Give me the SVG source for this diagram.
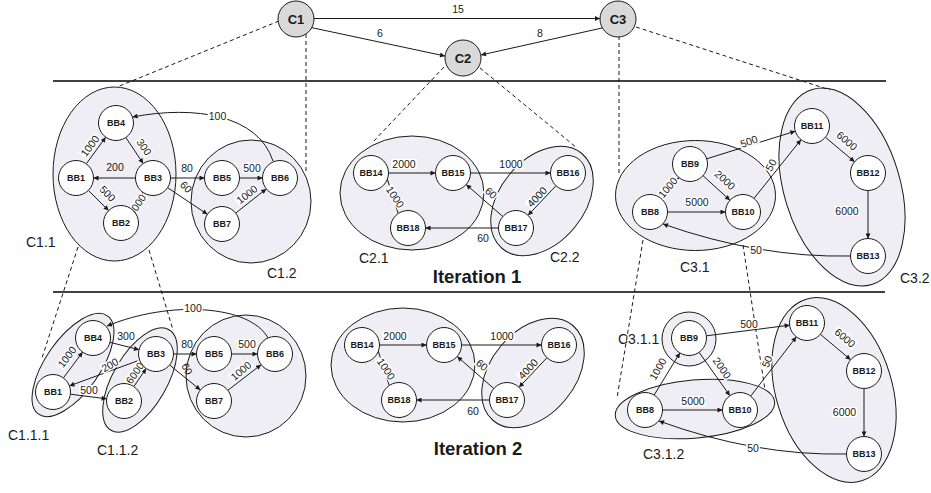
<svg xmlns="http://www.w3.org/2000/svg" width="931" height="493" viewBox="0 0 931 493">
<style>
  text { font-family: "Liberation Sans", Arial, sans-serif; }
  .ln { stroke: #1a1a1a; stroke-width: 1; fill: none; marker-end: url(#ah); }
  .dash { stroke: #1a1a1a; stroke-width: 1; stroke-dasharray: 4 3; fill: none; }
  .sep { stroke: #000; stroke-width: 1.5; }
  .bb circle { fill: #fff; stroke: #1a1a1a; stroke-width: 1; }
  .bb text { font-size: 9px; font-weight: bold; text-anchor: middle; fill: #1a1a1a; }
  .cn circle { fill: #d9d9d9; stroke: #1a1a1a; stroke-width: 1; }
  .cn text { font-size: 13px; font-weight: bold; text-anchor: middle; fill: #1a1a1a; }
  .el { font-size: 10.5px; text-anchor: middle; fill: #1a1a1a; }
  .bg rect { fill: #fff; stroke: none; }
  .cl { font-size: 14px; fill: #1a1a1a; }
  .it { font-size: 18.5px; font-weight: bold; text-anchor: middle; fill: #1a1a1a; }
  .cf { fill: #efeef4; stroke: none; }
  .co { fill: none; stroke: #1a1a1a; stroke-width: 1; }
</style>
<defs>
  <marker id="ah" viewBox="0 0 10 10" refX="10" refY="5" markerWidth="6" markerHeight="5" markerUnits="userSpaceOnUse" orient="auto">
    <path d="M0,0 L10,5 L0,10 z" fill="#1a1a1a"/>
  </marker>
  <ellipse id="e-c11" cx="114.5" cy="174" rx="61.5" ry="87"/>
  <ellipse id="e-c12" cx="251" cy="201.5" rx="60" ry="61.5"/>
  <ellipse id="e-c21" cx="412" cy="193" rx="72" ry="57"/>
  <ellipse id="e-c22" cx="542" cy="201" rx="62" ry="42" transform="rotate(-50 542 201)"/>
  <ellipse id="e-c31" cx="695.5" cy="195.5" rx="80" ry="55"/>
  <ellipse id="e-c32" cx="842" cy="187" rx="58" ry="102" transform="rotate(-17 842 187)"/>
  <ellipse id="e2-c111" cx="73" cy="365" rx="60" ry="27" transform="rotate(-55 73 365)"/>
  <ellipse id="e2-c112" cx="140" cy="380" rx="58" ry="27" transform="rotate(-60 140 380)"/>
  <ellipse id="e2-c12" cx="246" cy="376" rx="60" ry="61"/>
  <ellipse id="e2-c21" cx="403" cy="365" rx="72" ry="57"/>
  <ellipse id="e2-c22" cx="533" cy="373" rx="62" ry="42" transform="rotate(-50 533 373)"/>
  <circle id="e2-c311" cx="689" cy="339" r="27"/>
  <ellipse id="e2-c312" cx="695" cy="409" rx="80" ry="29" transform="rotate(-5 695 409)"/>
  <ellipse id="e2-c32" cx="834" cy="390" rx="58" ry="95" transform="rotate(-17 834 390)"/>
</defs>

<!-- separators -->
<g id="separators">
  <line class="sep" x1="53" y1="81" x2="886" y2="81"/>
  <line class="sep" x1="53" y1="292" x2="885" y2="292"/>
</g>

<!-- cluster fills then outlines -->
<g id="cluster-fills">
  <use href="#e-c11" class="cf"/><use href="#e-c12" class="cf"/>
  <use href="#e-c21" class="cf"/><use href="#e-c22" class="cf"/>
  <use href="#e-c31" class="cf"/><use href="#e-c32" class="cf"/>
  <use href="#e2-c111" class="cf"/><use href="#e2-c112" class="cf"/><use href="#e2-c12" class="cf"/>
  <use href="#e2-c21" class="cf"/><use href="#e2-c22" class="cf"/>
  <use href="#e2-c311" class="cf"/><use href="#e2-c312" class="cf"/><use href="#e2-c32" class="cf"/>
</g>
<g id="cluster-outlines">
  <use href="#e-c11" class="co"/><use href="#e-c12" class="co"/>
  <use href="#e-c21" class="co"/><use href="#e-c22" class="co"/>
  <use href="#e-c31" class="co"/><use href="#e-c32" class="co"/>
  <use href="#e2-c111" class="co"/><use href="#e2-c112" class="co"/><use href="#e2-c12" class="co"/>
  <use href="#e2-c21" class="co"/><use href="#e2-c22" class="co"/>
  <use href="#e2-c311" class="co"/><use href="#e2-c312" class="co"/><use href="#e2-c32" class="co"/>
</g>

<!-- dashed projection lines -->
<g id="projections">
  <line class="dash" x1="279" y1="21" x2="117" y2="87"/>
  <line class="dash" x1="306" y1="34" x2="306" y2="171"/>
  <line class="dash" x1="444" y1="67" x2="372" y2="143"/>
  <line class="dash" x1="480" y1="68" x2="577" y2="148"/>
  <line class="dash" x1="619" y1="36" x2="619" y2="173"/>
  <line class="dash" x1="636" y1="27" x2="830" y2="90"/>
  <line class="dash" x1="78" y1="247" x2="42" y2="358"/>
  <line class="dash" x1="149" y1="250" x2="173" y2="330"/>
  <line class="dash" x1="643" y1="240" x2="617" y2="398"/>
  <line class="dash" x1="743" y1="245" x2="765" y2="390"/>
</g>

<!-- connectors -->
<g id="connectors">
  <line class="ln" x1="314" y1="18.5" x2="600" y2="18.5"/>
  <line class="ln" x1="311" y1="27.5" x2="445" y2="56"/>
  <line class="ln" x1="602" y1="28" x2="481" y2="55"/>
  <line class="ln" x1="86.3" y1="163.8" x2="105.7" y2="137.2"/>
  <line class="ln" x1="125.8" y1="137.5" x2="143.2" y2="163.5"/>
  <line class="ln" x1="135.5" y1="178" x2="93.5" y2="178"/>
  <line class="ln" x1="88.4" y1="190.4" x2="108.6" y2="210.6"/>
  <line class="ln" x1="131.1" y1="208.7" x2="142.9" y2="192.3"/>
  <line class="ln" x1="170.5" y1="178" x2="204.5" y2="178"/>
  <line class="ln" x1="167.6" y1="187.7" x2="207.4" y2="214.3"/>
  <line class="ln" x1="239.5" y1="178" x2="262.5" y2="178"/>
  <line class="ln" x1="235.7" y1="213.1" x2="266.3" y2="188.9"/>
  <path class="ln" d="M273,161 C258,115 195,105 132.5,117"/>
  <line class="ln" x1="388.5" y1="173" x2="435.5" y2="173"/>
  <line class="ln" x1="470.5" y1="173" x2="550.5" y2="173"/>
  <line class="ln" x1="398.2" y1="213.5" x2="380.8" y2="158.5"/>
  <line class="ln" x1="502.8" y1="216.5" x2="466.2" y2="184.5"/>
  <line class="ln" x1="556" y1="185.7" x2="528" y2="215.3"/>
  <line class="ln" x1="498.5" y1="228" x2="425.5" y2="228"/>
  <line class="ln" x1="661.2" y1="198.6" x2="678.8" y2="177.4"/>
  <line class="ln" x1="703" y1="175.7" x2="730" y2="200.3"/>
  <line class="ln" x1="667.5" y1="212" x2="725.5" y2="212"/>
  <line class="ln" x1="706.7" y1="158.8" x2="795.3" y2="131.2"/>
  <line class="ln" x1="754" y1="198.4" x2="801" y2="139.7"/>
  <line class="ln" x1="825.4" y1="137.3" x2="854.6" y2="161.8"/>
  <line class="ln" x1="868" y1="190.5" x2="868" y2="238.5"/>
  <path class="ln" d="M850.5,256 Q760,258 663,224"/>
  <line class="ln" x1="63.4" y1="377.9" x2="82.6" y2="352.1"/>
  <line class="ln" x1="110" y1="342.3" x2="139" y2="349.7"/>
  <line class="ln" x1="139.6" y1="360.1" x2="69.4" y2="385.9"/>
  <line class="ln" x1="70.4" y1="394.2" x2="106.6" y2="398.8"/>
  <line class="ln" x1="133.9" y1="386.5" x2="146.1" y2="368.5"/>
  <line class="ln" x1="173.5" y1="354" x2="196.5" y2="354"/>
  <line class="ln" x1="169.6" y1="365" x2="200.4" y2="390"/>
  <line class="ln" x1="231.5" y1="354" x2="257.5" y2="354"/>
  <line class="ln" x1="227.9" y1="390.3" x2="261.1" y2="364.7"/>
  <path class="ln" d="M268,338 C250,305 170,300 107,326"/>
  <line class="ln" x1="379.5" y1="345" x2="426.5" y2="345"/>
  <line class="ln" x1="461.5" y1="345" x2="541.5" y2="345"/>
  <line class="ln" x1="389.2" y1="385.5" x2="371.8" y2="330.5"/>
  <line class="ln" x1="493.8" y1="388.5" x2="457.2" y2="356.5"/>
  <line class="ln" x1="547" y1="357.7" x2="519" y2="387.3"/>
  <line class="ln" x1="489.5" y1="400" x2="416.5" y2="400"/>
  <line class="ln" x1="654.1" y1="395.1" x2="679.9" y2="352.9"/>
  <line class="ln" x1="699.1" y1="352.3" x2="729.9" y2="395.7"/>
  <line class="ln" x1="662.5" y1="410" x2="722.5" y2="410"/>
  <line class="ln" x1="706.4" y1="335.8" x2="789.6" y2="325.2"/>
  <line class="ln" x1="750.7" y1="396.1" x2="796.3" y2="336.9"/>
  <line class="ln" x1="820.4" y1="334.3" x2="850.6" y2="359.7"/>
  <line class="ln" x1="864" y1="388.5" x2="864" y2="436.5"/>
  <path class="ln" d="M846.5,454 Q755,456 659,421"/>
</g>

<!-- white label boxes -->
<g id="label-boxes" class="bg">
  <rect x="77.3" y="141" width="25.4" height="10" transform="rotate(-54 90 146)"/>
  <rect x="134.25" y="142" width="19.5" height="10" transform="rotate(55 144 147)"/>
  <rect x="97.75" y="188.5" width="19.5" height="10" transform="rotate(45 107.5 193.5)"/>
  <rect x="124.3" y="200" width="25.4" height="10" transform="rotate(-55 137 205)"/>
  <rect x="242.25" y="163" width="19.5" height="10"/>
  <rect x="234.3" y="189.5" width="25.4" height="10" transform="rotate(-38 247 194.5)"/>
  <rect x="207.75" y="111" width="19.5" height="10"/>
  <rect x="391.3" y="159" width="25.4" height="10"/>
  <rect x="498.3" y="159" width="25.4" height="10"/>
  <rect x="382.3" y="192" width="25.4" height="10" transform="rotate(56 395 197)"/>
  <rect x="484.15" y="188" width="13.7" height="10" transform="rotate(41 491 193)"/>
  <rect x="524.3" y="192" width="25.4" height="10" transform="rotate(-47 537 197)"/>
  <rect x="655.3" y="182.5" width="25.4" height="10" transform="rotate(-50 668 187.5)"/>
  <rect x="712.3" y="175" width="25.4" height="10" transform="rotate(42 725 180)"/>
  <rect x="684.3" y="197" width="25.4" height="10"/>
  <rect x="739.25" y="136.5" width="19.5" height="10" transform="rotate(-20 749 141.5)"/>
  <rect x="764.15" y="160" width="13.7" height="10" transform="rotate(-60 771 165)"/>
  <rect x="834.3" y="136" width="25.4" height="10" transform="rotate(40 847 141)"/>
  <rect x="834.3" y="206" width="25.4" height="10"/>
  <rect x="749.15" y="245" width="13.7" height="10"/>
  <rect x="54.3" y="352" width="25.4" height="10" transform="rotate(-53 67 357)"/>
  <rect x="116.25" y="331.5" width="19.5" height="10"/>
  <rect x="100.25" y="360" width="19.5" height="10" transform="rotate(-30 110 365)"/>
  <rect x="79.25" y="385" width="19.5" height="10"/>
  <rect x="122.3" y="368" width="25.4" height="10" transform="rotate(-55 135 373)"/>
  <rect x="237.25" y="339" width="19.5" height="10"/>
  <rect x="228.3" y="366" width="25.4" height="10" transform="rotate(-40 241 371)"/>
  <rect x="183.25" y="303" width="19.5" height="10"/>
  <rect x="382.3" y="331" width="25.4" height="10"/>
  <rect x="489.3" y="331" width="25.4" height="10"/>
  <rect x="373.3" y="364" width="25.4" height="10" transform="rotate(56 386 369)"/>
  <rect x="475.15" y="360" width="13.7" height="10" transform="rotate(41 482 365)"/>
  <rect x="515.3" y="364" width="25.4" height="10" transform="rotate(-47 528 369)"/>
  <rect x="739.25" y="319" width="19.5" height="10"/>
  <rect x="645.3" y="364" width="25.4" height="10" transform="rotate(-60 658 369)"/>
  <rect x="709.3" y="363" width="25.4" height="10" transform="rotate(55 722 368)"/>
  <rect x="680.3" y="396.5" width="25.4" height="10"/>
  <rect x="760.15" y="356.5" width="13.7" height="10" transform="rotate(-68 767 361.5)"/>
  <rect x="832.3" y="333" width="25.4" height="10" transform="rotate(40 845 338)"/>
  <rect x="831.8" y="407" width="25.4" height="10"/>
  <rect x="746.15" y="443" width="13.7" height="10"/>
</g>

<!-- edge labels -->
<g id="edge-labels">
  <text class="el" x="458" y="13">15</text>
  <text class="el" x="380" y="37">6</text>
  <text class="el" x="540" y="37">8</text>
  <text class="el" x="90" y="149.7" transform="rotate(-54 90 146)">1000</text>
  <text class="el" x="144" y="150.7" transform="rotate(55 144 147)">300</text>
  <text class="el" x="115" y="170.7">200</text>
  <text class="el" x="107.5" y="197.2" transform="rotate(45 107.5 193.5)">500</text>
  <text class="el" x="137" y="208.7" transform="rotate(-55 137 205)">6000</text>
  <text class="el" x="187" y="171.7">80</text>
  <text class="el" x="186" y="190.7" transform="rotate(45 186 187)">60</text>
  <text class="el" x="252" y="171.7">500</text>
  <text class="el" x="247" y="198.2" transform="rotate(-38 247 194.5)">1000</text>
  <text class="el" x="217.5" y="119.7">100</text>
  <text class="el" x="404" y="167.7">2000</text>
  <text class="el" x="511" y="167.7">1000</text>
  <text class="el" x="395" y="200.7" transform="rotate(56 395 197)">1000</text>
  <text class="el" x="491" y="196.7" transform="rotate(41 491 193)">60</text>
  <text class="el" x="537" y="200.7" transform="rotate(-47 537 197)">4000</text>
  <text class="el" x="483" y="241.7">60</text>
  <text class="el" x="668" y="191.2" transform="rotate(-50 668 187.5)">1000</text>
  <text class="el" x="725" y="183.7" transform="rotate(42 725 180)">2000</text>
  <text class="el" x="697" y="205.7">5000</text>
  <text class="el" x="749" y="145.2" transform="rotate(-20 749 141.5)">500</text>
  <text class="el" x="771" y="168.7" transform="rotate(-60 771 165)">50</text>
  <text class="el" x="847" y="144.7" transform="rotate(40 847 141)">6000</text>
  <text class="el" x="847" y="214.7">6000</text>
  <text class="el" x="756" y="253.7">50</text>
  <text class="el" x="67" y="360.7" transform="rotate(-53 67 357)">1000</text>
  <text class="el" x="126" y="340.2">300</text>
  <text class="el" x="110" y="368.7" transform="rotate(-30 110 365)">200</text>
  <text class="el" x="89" y="393.7">500</text>
  <text class="el" x="135" y="376.7" transform="rotate(-55 135 373)">6000</text>
  <text class="el" x="187" y="347.7">80</text>
  <text class="el" x="187" y="372.7" transform="rotate(60 187 369)">60</text>
  <text class="el" x="247" y="347.7">500</text>
  <text class="el" x="241" y="374.7" transform="rotate(-40 241 371)">1000</text>
  <text class="el" x="193" y="311.7">100</text>
  <text class="el" x="395" y="339.7">2000</text>
  <text class="el" x="502" y="339.7">1000</text>
  <text class="el" x="386" y="372.7" transform="rotate(56 386 369)">1000</text>
  <text class="el" x="482" y="368.7" transform="rotate(41 482 365)">60</text>
  <text class="el" x="528" y="372.7" transform="rotate(-47 528 369)">4000</text>
  <text class="el" x="473" y="414.7">60</text>
  <text class="el" x="749" y="327.7">500</text>
  <text class="el" x="658" y="372.7" transform="rotate(-60 658 369)">1000</text>
  <text class="el" x="722" y="371.7" transform="rotate(55 722 368)">2000</text>
  <text class="el" x="693" y="405.2">5000</text>
  <text class="el" x="767" y="365.2" transform="rotate(-68 767 361.5)">50</text>
  <text class="el" x="845" y="341.7" transform="rotate(40 845 338)">6000</text>
  <text class="el" x="844.5" y="415.7">6000</text>
  <text class="el" x="753" y="451.7">50</text>
</g>

<!-- top-level nodes -->
<g id="C1" class="cn"><circle cx="296" cy="19" r="18"/><text x="296" y="23.7">C1</text></g>
<g id="C2" class="cn"><circle cx="463" cy="58" r="18"/><text x="463" y="62.7">C2</text></g>
<g id="C3" class="cn"><circle cx="618" cy="19" r="18"/><text x="618" y="23.7">C3</text></g>

<!-- iteration 1 nodes -->
<g id="bb1" class="bb"><circle cx="76" cy="178" r="17.5"/><text x="76" y="181.2">BB1</text></g>
<g id="bb2" class="bb"><circle cx="121" cy="223" r="17.5"/><text x="121" y="226.2">BB2</text></g>
<g id="bb3" class="bb"><circle cx="153" cy="178" r="17.5"/><text x="153" y="181.2">BB3</text></g>
<g id="bb4" class="bb"><circle cx="116" cy="123" r="17.5"/><text x="116" y="126.2">BB4</text></g>
<g id="bb5" class="bb"><circle cx="222" cy="178" r="17.5"/><text x="222" y="181.2">BB5</text></g>
<g id="bb6" class="bb"><circle cx="280" cy="178" r="17.5"/><text x="280" y="181.2">BB6</text></g>
<g id="bb7" class="bb"><circle cx="222" cy="224" r="17.5"/><text x="222" y="227.2">BB7</text></g>
<g id="bb14" class="bb"><circle cx="371" cy="173" r="17.5"/><text x="371" y="176.2">BB14</text></g>
<g id="bb15" class="bb"><circle cx="453" cy="173" r="17.5"/><text x="453" y="176.2">BB15</text></g>
<g id="bb16" class="bb"><circle cx="568" cy="173" r="17.5"/><text x="568" y="176.2">BB16</text></g>
<g id="bb17" class="bb"><circle cx="516" cy="228" r="17.5"/><text x="516" y="231.2">BB17</text></g>
<g id="bb18" class="bb"><circle cx="408" cy="228" r="17.5"/><text x="408" y="231.2">BB18</text></g>
<g id="bb8" class="bb"><circle cx="650" cy="212" r="17.5"/><text x="650" y="215.2">BB8</text></g>
<g id="bb9" class="bb"><circle cx="690" cy="164" r="17.5"/><text x="690" y="167.2">BB9</text></g>
<g id="bb10" class="bb"><circle cx="743" cy="212" r="17.5"/><text x="743" y="215.2">BB10</text></g>
<g id="bb11" class="bb"><circle cx="812" cy="126" r="17.5"/><text x="812" y="129.2">BB11</text></g>
<g id="bb12" class="bb"><circle cx="868" cy="173" r="17.5"/><text x="868" y="176.2">BB12</text></g>
<g id="bb13" class="bb"><circle cx="868" cy="256" r="17.5"/><text x="868" y="259.2">BB13</text></g>

<!-- iteration 2 nodes -->
<g id="it2-bb1" class="bb"><circle cx="53" cy="392" r="17.5"/><text x="53" y="395.2">BB1</text></g>
<g id="it2-bb2" class="bb"><circle cx="124" cy="401" r="17.5"/><text x="124" y="404.2">BB2</text></g>
<g id="it2-bb3" class="bb"><circle cx="156" cy="354" r="17.5"/><text x="156" y="357.2">BB3</text></g>
<g id="it2-bb4" class="bb"><circle cx="93" cy="338" r="17.5"/><text x="93" y="341.2">BB4</text></g>
<g id="it2-bb5" class="bb"><circle cx="214" cy="354" r="17.5"/><text x="214" y="357.2">BB5</text></g>
<g id="it2-bb6" class="bb"><circle cx="275" cy="354" r="17.5"/><text x="275" y="357.2">BB6</text></g>
<g id="it2-bb7" class="bb"><circle cx="214" cy="401" r="17.5"/><text x="214" y="404.2">BB7</text></g>
<g id="it2-bb14" class="bb"><circle cx="362" cy="345" r="17.5"/><text x="362" y="348.2">BB14</text></g>
<g id="it2-bb15" class="bb"><circle cx="444" cy="345" r="17.5"/><text x="444" y="348.2">BB15</text></g>
<g id="it2-bb16" class="bb"><circle cx="559" cy="345" r="17.5"/><text x="559" y="348.2">BB16</text></g>
<g id="it2-bb17" class="bb"><circle cx="507" cy="400" r="17.5"/><text x="507" y="403.2">BB17</text></g>
<g id="it2-bb18" class="bb"><circle cx="399" cy="400" r="17.5"/><text x="399" y="403.2">BB18</text></g>
<g id="it2-bb8" class="bb"><circle cx="645" cy="410" r="17.5"/><text x="645" y="413.2">BB8</text></g>
<g id="it2-bb9" class="bb"><circle cx="689" cy="338" r="17.5"/><text x="689" y="341.2">BB9</text></g>
<g id="it2-bb10" class="bb"><circle cx="740" cy="410" r="17.5"/><text x="740" y="413.2">BB10</text></g>
<g id="it2-bb11" class="bb"><circle cx="807" cy="323" r="17.5"/><text x="807" y="326.2">BB11</text></g>
<g id="it2-bb12" class="bb"><circle cx="864" cy="371" r="17.5"/><text x="864" y="374.2">BB12</text></g>
<g id="it2-bb13" class="bb"><circle cx="864" cy="454" r="17.5"/><text x="864" y="457.2">BB13</text></g>

<!-- cluster labels -->
<g id="cluster-labels">
  <text class="cl" x="26" y="247">C1.1</text>
  <text class="cl" x="267" y="278">C1.2</text>
  <text class="cl" x="359" y="263">C2.1</text>
  <text class="cl" x="550" y="262">C2.2</text>
  <text class="cl" x="680" y="272">C3.1</text>
  <text class="cl" x="900" y="283">C3.2</text>
  <text class="cl" x="8" y="440">C1.1.1</text>
  <text class="cl" x="97" y="455">C1.1.2</text>
  <text class="cl" x="618" y="344">C3.1.1</text>
  <text class="cl" x="643" y="459">C3.1.2</text>
  <text class="it" x="477" y="283">Iteration 1</text>
  <text class="it" x="478" y="455">Iteration 2</text>
</g>
</svg>
